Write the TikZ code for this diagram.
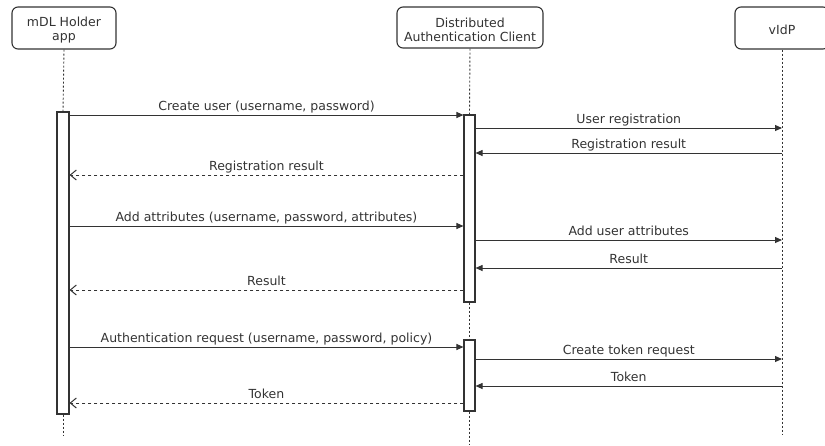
\documentclass[tikz,border=0pt]{standalone}
\usepackage{fontspec}
\setmainfont{DejaVu Sans}
\usetikzlibrary{arrows.meta, positioning}

\definecolor{ink}{RGB}{51,51,51}
\newcommand{\topstrut}{\rule{0pt}{14pt}}

\begin{document}
\begin{tikzpicture}[x=1pt, y=-1pt, font=\fontsize{12.5}{13.5}\selectfont,
    actor/.style={draw=ink, line width=1.1pt, rounded corners=6pt, fill=white, text=ink, align=center, inner sep=0pt},
    lifeline/.style={draw=ink, line width=0.9pt, dash pattern=on 2pt off 2pt},
    activation/.style={draw=ink, line width=1.1pt, fill=white, inner sep=0pt},
    msg/.style={draw=ink, line width=1pt, -{Triangle[length=7pt, width=6pt]}},
    reply/.style={draw=ink, line width=1pt, dash pattern=on 3pt off 3pt, -{Straight Barb[length=6pt, width=10pt]}},
    msglabel/.style={above, inner sep=1.5pt, text depth=3pt, text=ink}]

    \useasboundingbox (0, 0) rectangle (825, 445);

    % Participants
    \node[actor, minimum width=104pt, minimum height=42pt] (holder) at (64, 28) {\topstrut mDL Holder\\app};
    \node[actor, minimum width=146pt, minimum height=41pt] (client) at (470, 27.5) {\topstrut Distributed\\Authentication Client};
    \node[actor, minimum width=94pt, minimum height=42pt] (vidp) at (782, 28) {\topstrut vIdP};

    % Activation bars
    \node[activation, minimum width=12pt, minimum height=302pt] (holderbar) at (63, 263) {};
    \node[activation, minimum width=11pt, minimum height=187pt] (clientbarA) at (469.5, 208.5) {};
    \node[activation, minimum width=11pt, minimum height=71pt] (clientbarB) at (469.5, 375.5) {};

    % Lifeline ends
    \coordinate (holderend) at (63, 435);
    \coordinate (clientend) at (469.5, 445);
    \coordinate (vidpend) at (782, 434);

    % Lifelines
    \draw[lifeline] (holder.south) -- (holderbar.north);
    \draw[lifeline] (holderbar.south) -- (holderend);
    \draw[lifeline] (client.south) -- (clientbarA.north);
    \draw[lifeline] (clientbarA.south) -- (clientbarB.north);
    \draw[lifeline] (clientbarB.south) -- (clientend);
    \draw[lifeline] (vidp.south) -- (vidpend);

    % Holder -> client requests
    \foreach \y/\bar/\text in {
            115/clientbarA/{Create user (username, password)},
            226/clientbarA/{Add attributes (username, password, attributes)},
            347/clientbarB/{Authentication request (username, password, policy)}%
        } {
        \draw[msg] (holderbar.east |- 0, \y) -- (\bar.west |- 0, \y) node[midway, msglabel] {\text};
    }

    % Client -> vIdP requests
    \foreach \y/\bar/\text in {
            128/clientbarA/User registration,
            240/clientbarA/Add user attributes,
            359/clientbarB/Create token request
        } {
        \draw[msg] (\bar.east |- 0, \y) -- (vidp |- 0, \y) node[midway, msglabel] {\text};
    }

    % vIdP -> client answers
    \foreach \y/\bar/\text in {
            153/clientbarA/Registration result,
            268/clientbarA/Result,
            386/clientbarB/Token
        } {
        \draw[msg] (vidp |- 0, \y) -- (\bar.east |- 0, \y) node[midway, msglabel] {\text};
    }

    % Client -> holder replies
    \foreach \y/\bar/\text in {
            175/clientbarA/Registration result,
            290/clientbarA/Result,
            403/clientbarB/Token
        } {
        \draw[reply] (\bar.west |- 0, \y) -- (holderbar.east |- 0, \y) node[midway, msglabel] {\text};
    }

\end{tikzpicture}
\end{document}
